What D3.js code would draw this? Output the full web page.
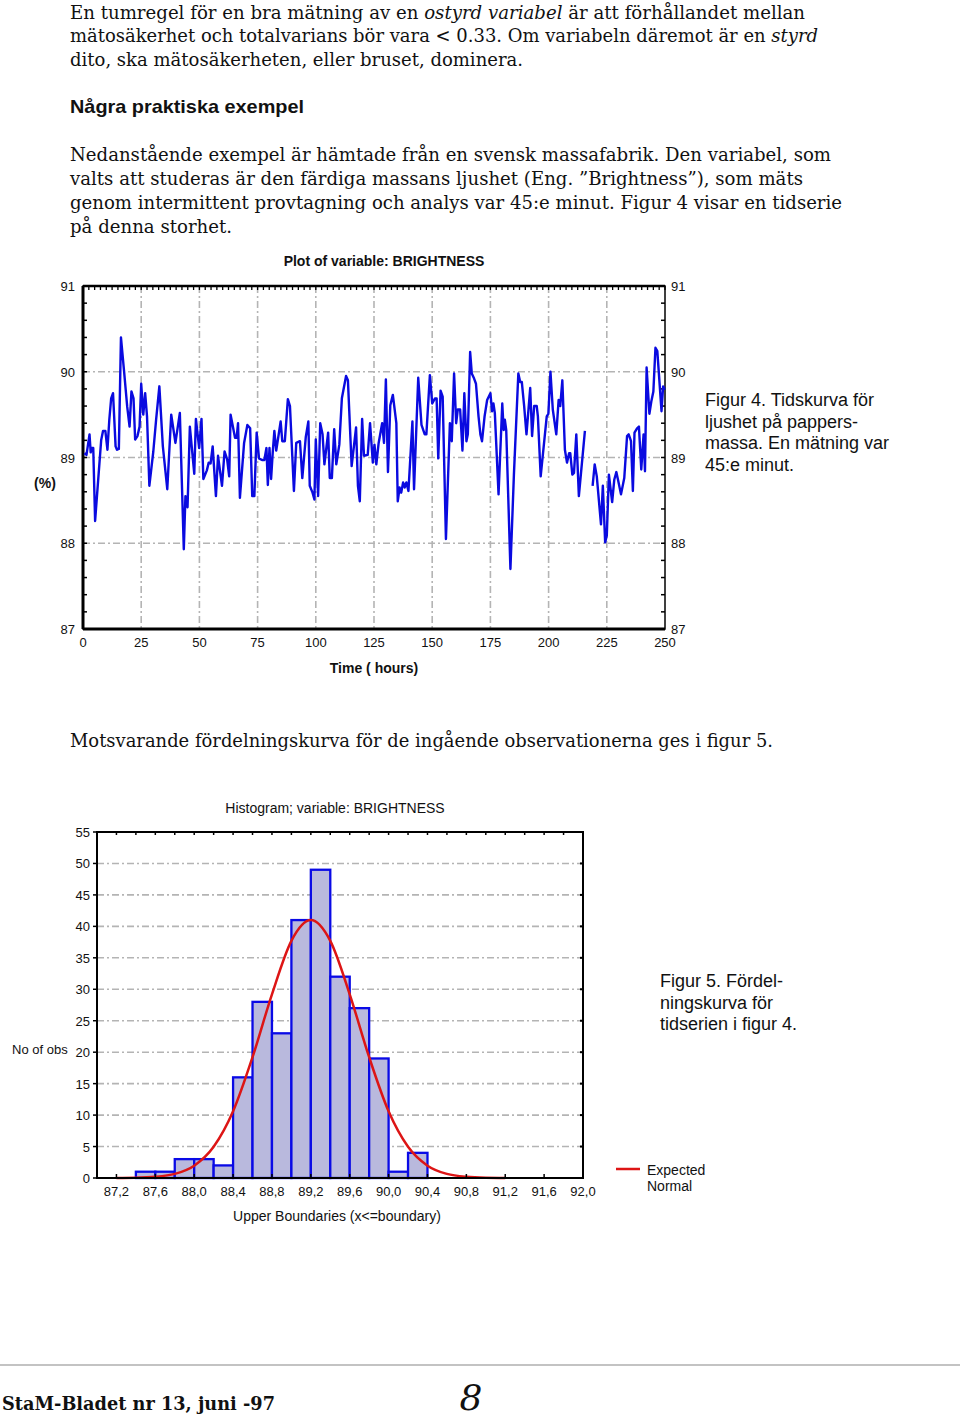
<!DOCTYPE html>
<html><head><meta charset="utf-8">
<script src="https://cdn.jsdelivr.net/npm/d3@7"></script>
<style>body{margin:0;background:#fff} svg{display:block}</style>
</head><body>
<svg id="page" width="960" height="1417"></svg>
<script>
// ---------- DATA ----------
const timeHours = [0.6,1.5,2.8,3.3,3.8,4.4,5.2,7.8,8.6,9.6,10.5,11.3,12.1,12.9,14.0,14.6,15.4,16.3,17.6,19.0,20.0,20.8,21.7,22.4,23.4,24.3,25.0,25.9,26.7,27.5,28.5,30.2,31.4,32.8,34.3,36.2,37.9,39.7,41.6,43.3,44.0,44.9,45.9,47.8,48.5,49.9,50.9,51.7,53.2,54.0,54.8,55.7,57.1,58.0,59.7,60.8,61.9,62.8,63.4,65.3,66.0,66.6,67.4,69.2,70.6,71.8,72.7,73.6,74.6,75.6,76.9,77.9,78.8,79.4,80.1,80.8,81.5,82.2,83.0,84.9,85.6,86.7,88.0,88.9,90.6,91.6,93.2,94.2,95.7,96.8,97.4,98.6,99.4,100.0,101.0,101.9,102.9,103.7,105.3,106.0,106.9,107.9,108.8,110.1,111.2,113.0,113.8,115.4,117.3,118.1,118.9,119.9,120.7,122.3,123.3,124.5,125.2,126.0,127.0,128.5,129.3,130.1,131.0,132.0,133.1,134.6,135.2,136.0,136.7,137.5,138.2,138.9,139.8,141.5,142.2,144.0,145.4,146.8,147.5,149.0,150.0,151.2,151.9,152.6,153.6,154.5,155.9,157.6,158.4,159.4,160.3,161.0,162.0,163.0,163.8,164.7,165.3,166.3,167.0,168.0,168.8,169.9,170.7,171.4,172.5,173.6,175.0,175.7,176.3,176.9,178.5,180.1,180.7,181.2,181.8,183.6,185.1,187.0,187.8,188.5,189.5,190.5,192.1,192.9,193.8,194.9,195.4,196.6,198.2,199.2,199.9,200.8,201.8,203.3,204.3,205.0,205.9,207.0,207.9,208.8,209.3,210.2,210.9,211.9,213.0,215.6,217.2,218.9,219.8,220.7,222.5,223.3,224.3,225.0,225.9,227.3,228.2,229.1,229.9,231.1,232.5,233.7,234.4,235.4,236.2,236.9,238.0,238.8,239.8,240.8,241.4,242.1,243.3,244.1,245.0,245.9,246.7,248.5,249.2,249.9];
const brightness = [89.05,89.03,89.27,89.06,89.11,89.11,88.26,89.20,89.31,89.31,89.09,89.44,89.69,89.75,89.13,89.09,89.10,90.40,90.02,89.59,89.36,89.77,89.69,89.21,89.25,89.36,89.86,89.50,89.75,89.48,88.67,89.07,89.44,89.83,89.13,88.63,89.50,89.17,89.52,87.93,88.55,88.42,89.36,88.81,89.45,89.11,89.45,88.75,88.85,88.94,88.93,89.13,88.55,89.02,88.67,89.07,88.98,88.78,89.50,89.23,89.23,89.40,88.53,89.17,89.38,89.34,88.55,88.55,89.29,88.99,88.97,88.97,89.11,88.68,89.11,88.75,89.06,89.31,89.08,89.42,89.19,89.19,89.68,89.60,88.61,89.17,89.19,88.76,89.24,89.42,88.67,88.59,88.51,89.21,88.55,89.40,89.27,88.92,89.29,88.76,88.76,89.33,88.92,89.15,89.69,89.95,89.90,88.90,89.35,88.67,88.49,89.45,89.02,89.03,89.40,88.94,89.15,88.92,89.17,89.40,89.17,89.91,88.83,89.61,89.73,89.40,88.49,88.65,88.59,88.71,88.65,88.71,88.61,89.42,88.63,89.93,89.38,89.27,89.27,89.96,89.63,89.69,89.69,88.99,89.78,89.71,88.05,89.40,89.19,89.98,89.40,89.56,89.56,89.08,89.75,89.19,89.27,90.23,89.98,89.92,89.86,89.48,89.27,89.19,89.48,89.67,89.75,89.54,89.63,89.52,88.57,89.63,89.32,89.44,89.32,87.70,88.80,89.98,89.88,89.88,89.60,89.27,89.81,89.25,89.60,89.60,89.48,88.78,89.21,89.48,89.51,90.00,89.56,89.27,89.67,89.60,89.90,89.09,88.94,89.05,89.05,88.80,88.82,89.27,88.55,89.31,null,88.67,88.92,88.78,88.22,88.67,88.01,88.09,88.80,88.48,88.74,88.83,88.73,88.57,88.76,89.25,89.27,89.19,88.61,89.29,89.34,89.36,88.86,89.27,88.84,90.05,89.51,89.65,89.77,90.28,90.24,89.54,89.83,89.79];
const tsXTicks = [0,25,50,75,100,125,150,175,200,225,250];
const tsYTicks = [87,88,89,90,91];

const binLower = [87.0,87.2,87.4,87.6,87.8,88.0,88.2,88.4,88.6,88.8,89.0,89.2,89.4,89.6,89.8,90.0,90.2,90.4];
const binCounts = [0,0,1,1,3,3,2,16,28,23,41,49,32,27,19,1,4,0];
const normalX = [87.2,87.4,87.6,87.8,88.0,88.2,88.4,88.6,88.8,89.0,89.2,89.4,89.6,89.8,90.0,90.2,90.4,90.6,90.8,91.0,91.2];
const normalY = [0.01,0.04,0.18,0.65,1.96,4.96,10.6,19.2,29.2,37.7,41.0,37.7,29.2,19.2,10.6,4.96,1.96,0.65,0.18,0.04,0.01];
const histXTicks = [87.2,87.6,88.0,88.4,88.8,89.2,89.6,90.0,90.4,90.8,91.2,91.6,92.0];
const histYTicks = [0,5,10,15,20,25,30,35,40,45,50,55];

// ---------- DRAW ----------
const svg = d3.select("#page");
const serif = "'DejaVu Serif', 'Liberation Serif', serif";
const sans = "'Liberation Sans', Arial, Helvetica, sans-serif";

function line(txt, x, y, len, opts={}) {
  const t = svg.append("text").attr("x", x).attr("y", y)
    .attr("font-family", opts.family || serif)
    .attr("font-size", opts.size || 18)
    .attr("font-weight", opts.weight || "normal")
    .attr("fill", "#111");
  if (len) t.attr("textLength", len).attr("lengthAdjust", "spacingAndGlyphs");
  if (Array.isArray(txt)) {
    txt.forEach(p => {
      const s = t.append("tspan").text(p[0]);
      if (p[1]) s.attr("font-style", "italic");
    });
  } else t.text(txt);
  return t;
}

line([["En tumregel för en bra mätning av en "],["ostyrd variabel",1],[" är att förhållandet mellan"]], 70, 19, 735);
line([["mätosäkerhet och totalvarians bör vara < 0.33. Om variabeln däremot är en "],["styrd",1]], 70, 42, 748);
line("dito, ska mätosäkerheten, eller bruset, dominera.", 70, 66, 453);
line("Några praktiska exempel", 70, 113, 234, {family: sans, weight: "bold", size: 19});
line("Nedanstående exempel är hämtade från en svensk massafabrik. Den variabel, som", 70, 161, 761);
line("valts att studeras är den färdiga massans ljushet (Eng. ”Brightness”), som mäts", 70, 185, 733);
line("genom intermittent provtagning och analys var 45:e minut. Figur 4 visar en tidserie", 70, 209, 772);
line("på denna storhet.", 70, 233, 162);
line("Motsvarande fördelningskurva för de ingående observationerna ges i figur 5.", 70, 747, 703);

// ---------- TIME SERIES ----------
const x1 = d3.scaleLinear().domain([0, 250]).range([83, 665]);
const y1 = d3.scaleLinear().domain([87, 91]).range([629, 286]);
const g1 = svg.append("g");
const gridStyle = s => s.attr("stroke", "#b4b4b4").attr("stroke-width", 1.6).attr("stroke-dasharray", "7,3,2,3");

g1.selectAll(".vg").data(tsXTicks.slice(1, -1)).join("line")
  .attr("x1", d => x1(d)).attr("x2", d => x1(d)).attr("y1", y1(91)).attr("y2", y1(87))
  .call(gridStyle);
g1.selectAll(".hg").data(tsYTicks.slice(1, -1)).join("line")
  .attr("x1", x1(0)).attr("x2", x1(250)).attr("y1", d => y1(d)).attr("y2", d => y1(d))
  .call(gridStyle);

const yMinor = d3.range(87, 91.001, 0.2);
g1.selectAll(".lt").data(yMinor).join("line")
  .attr("x1", x1(0)).attr("x2", x1(0) + 4).attr("y1", d => y1(d)).attr("y2", d => y1(d))
  .attr("stroke", "#000").attr("stroke-width", 1.5);
g1.selectAll(".rt").data(yMinor).join("line")
  .attr("x1", x1(250)).attr("x2", x1(250) - 4).attr("y1", d => y1(d)).attr("y2", d => y1(d))
  .attr("stroke", "#000").attr("stroke-width", 1.5);
const xMinor = d3.range(0, 250.001, 2.5);
g1.selectAll(".tt").data(xMinor).join("line")
  .attr("x1", d => x1(d)).attr("x2", d => x1(d)).attr("y1", y1(91)).attr("y2", y1(91) + 4)
  .attr("stroke", "#000").attr("stroke-width", 1.3);

g1.append("rect").attr("x", x1(0)).attr("y", y1(91)).attr("width", x1(250) - x1(0)).attr("height", y1(87) - y1(91))
  .attr("fill", "none").attr("stroke", "#000").attr("stroke-width", 1.5);
g1.append("line").attr("x1", x1(0)).attr("x2", x1(0)).attr("y1", y1(91)).attr("y2", y1(87)).attr("stroke", "#000").attr("stroke-width", 3);
g1.append("line").attr("x1", x1(0)).attr("x2", x1(250)).attr("y1", y1(87)).attr("y2", y1(87)).attr("stroke", "#000").attr("stroke-width", 3);
g1.append("line").attr("x1", x1(0)).attr("x2", x1(250)).attr("y1", y1(91)).attr("y2", y1(91)).attr("stroke", "#000").attr("stroke-width", 2.5);

const pts = timeHours.map((t, i) => [t, brightness[i]]);
g1.append("path").datum(pts)
  .attr("d", d3.line().defined(d => d[1] !== null).x(d => x1(d[0])).y(d => y1(d[1])))
  .attr("fill", "none").attr("stroke", "#0a0ae0").attr("stroke-width", 2.4).attr("stroke-linejoin", "round");

const lab = (g, txt, x, y, anchor, opts={}) => g.append("text").attr("x", x).attr("y", y)
  .attr("text-anchor", anchor).attr("font-family", sans).attr("font-size", opts.size || 13)
  .attr("font-weight", opts.weight || "normal").attr("fill", "#111").text(txt);

tsYTicks.forEach(v => {
  lab(g1, v, 75, y1(v) + 5, "end");
  lab(g1, v, 671, y1(v) + 5, "start");
});
tsXTicks.forEach(v => lab(g1, v, x1(v), 647, "middle"));
lab(g1, "Plot of variable: BRIGHTNESS", 384, 266, "middle", {weight: "bold", size: 14});
lab(g1, "Time ( hours)", 374, 673, "middle", {weight: "bold", size: 14});
lab(g1, "(%)", 45, 488, "middle", {weight: "bold", size: 14});

["Figur 4. Tidskurva för", "ljushet på pappers-", "massa. En mätning var", "45:e minut."].forEach((s, i) =>
  lab(svg, s, 705, 406 + i * 21.5, "start", {size: 18}));

// ---------- HISTOGRAM ----------
const x2 = d3.scaleLinear().domain([87, 92]).range([97, 583]);
const y2 = d3.scaleLinear().domain([0, 55]).range([1178, 832]);
const g2 = svg.append("g");

lab(g2, "No of obs", 12, 1054, "start");
g2.append("rect").attr("x", x2(87)).attr("y", y2(55)).attr("width", x2(92) - x2(87)).attr("height", y2(0) - y2(55)).attr("fill", "#fff");

g2.selectAll(".hg").data(histYTicks.slice(1, -1)).join("line")
  .attr("x1", x2(87)).attr("x2", x2(92)).attr("y1", d => y2(d)).attr("y2", d => y2(d))
  .call(gridStyle);

g2.selectAll(".bar").data(binLower.map((b, i) => ({b, c: binCounts[i]}))).join("rect")
  .attr("x", d => x2(d.b)).attr("y", d => y2(d.c))
  .attr("width", d => x2(d.b + 0.2) - x2(d.b)).attr("height", d => y2(0) - y2(d.c))
  .attr("fill", "#b9b9dd").attr("stroke", "#0a0ae6").attr("stroke-width", 2.3);

g2.append("path").datum(normalX.map((v, i) => [v, normalY[i]]))
  .attr("d", d3.line().curve(d3.curveMonotoneX).x(d => x2(d[0])).y(d => y2(d[1])))
  .attr("fill", "none").attr("stroke", "#dd1515").attr("stroke-width", 2.5);

g2.append("rect").attr("x", x2(87)).attr("y", y2(55)).attr("width", x2(92) - x2(87)).attr("height", y2(0) - y2(55))
  .attr("fill", "none").attr("stroke", "#000").attr("stroke-width", 2);
g2.selectAll(".ylt").data(histYTicks).join("line")
  .attr("x1", x2(87) - 4).attr("x2", x2(87)).attr("y1", d => y2(d)).attr("y2", d => y2(d))
  .attr("stroke", "#000").attr("stroke-width", 1.5);
g2.selectAll(".yrt").data(histYTicks).join("line")
  .attr("x1", x2(92)).attr("x2", x2(92) - 3).attr("y1", d => y2(d)).attr("y2", d => y2(d))
  .attr("stroke", "#000").attr("stroke-width", 2);
g2.selectAll(".xbt").data(histXTicks).join("line")
  .attr("x1", d => x2(d)).attr("x2", d => x2(d)).attr("y1", y2(0)).attr("y2", y2(0) - 4)
  .attr("stroke", "#000").attr("stroke-width", 1.5);
g2.selectAll(".xtt").data(d3.range(87.2, 92.0, 0.2)).join("line")
  .attr("x1", d => x2(d)).attr("x2", d => x2(d)).attr("y1", y2(55)).attr("y2", y2(55) + 3)
  .attr("stroke", "#000").attr("stroke-width", 1.5);

histYTicks.forEach(v => lab(g2, v, 90, y2(v) + 5, "end"));
histXTicks.forEach(v => lab(g2, v.toFixed(1).replace(".", ","), x2(v), 1196, "middle"));
lab(g2, "Histogram; variable: BRIGHTNESS", 335, 813, "middle", {size: 14});
lab(g2, "Upper Boundaries (x<=boundary)", 337, 1221, "middle", {size: 14});

g2.append("line").attr("x1", 616).attr("x2", 640).attr("y1", 1169).attr("y2", 1169).attr("stroke", "#dd1515").attr("stroke-width", 2.5);
lab(g2, "Expected", 647, 1175, "start", {size: 14});
lab(g2, "Normal", 647, 1191, "start", {size: 14});

["Figur 5. Fördel-", "ningskurva för", "tidserien i figur 4."].forEach((s, i) =>
  lab(svg, s, 660, 987 + i * 21.5, "start", {size: 18}));

// ---------- FOOTER ----------
svg.append("line").attr("x1", 0).attr("x2", 960).attr("y1", 1365).attr("y2", 1365).attr("stroke", "#888").attr("stroke-width", 1.2);
line("StaM-Bladet nr 13, juni -97", 2, 1410, 273, {weight: "bold", size: 19});
svg.append("text").attr("x", 471).attr("y", 1410).attr("text-anchor", "middle")
  .attr("font-family", serif).attr("font-style", "italic").attr("font-size", 36).attr("fill", "#111").text("8");
</script>
</body></html>
